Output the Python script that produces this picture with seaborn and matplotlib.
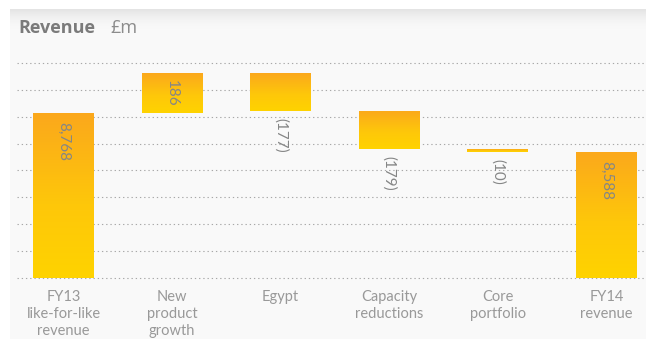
import numpy as np
import pandas as pd
import matplotlib
matplotlib.use("Agg")
import matplotlib.pyplot as plt
import seaborn as sns
from matplotlib.colors import LinearSegmentedColormap

# ---- data ----
categories = ["FY13\nlike-for-like\nrevenue", "New\nproduct\ngrowth", "Egypt",
              "Capacity\nreductions", "Core\nportfolio", "FY14\nrevenue"]
changes = [8768, 186, -177, -179, -10, 8588]
value_labels = ["8,768", "186", "(177)", "(179)", "(10)", "8,588"]
axis_floor = 8000
axis_top = 9000
grid_step = 125

# waterfall geometry (totals start at the axis floor)
bottoms, heights = [], []
running = 0
for i, c in enumerate(changes):
    if i == 0 or i == len(changes) - 1:
        bottoms.append(axis_floor)
        heights.append(c - axis_floor)
        running = c
    else:
        new = running + c
        bottoms.append(min(running, new))
        heights.append(abs(c))
        running = new

df = pd.DataFrame({"category": categories, "height": heights, "bottom": bottoms})

sns.set_theme(style="white")
plt.rcParams["font.family"] = ["Lato", "DejaVu Sans"]

W, H = 646, 339
fig = plt.figure(figsize=(W / 100, H / 100), dpi=100, facecolor="white")

# light grey panel with soft top shadow
bg = fig.add_axes([10 / W, 0, (W - 10) / W, (H - 9) / H])
rows = np.arange(330)
shade = np.clip(1 - rows / 20.0, 0, 1) ** 1.8
vals = (0xf9 - (0xf9 - 0xe4) * shade) / 255.0
img = np.repeat(vals[:, None], 10, axis=1)
img = np.dstack([img, img, img])
bg.imshow(img, aspect="auto", extent=[0, 1, 0, 1], origin="upper")
bg.axis("off")

# main axes
ylo, yhi = axis_floor - 20, axis_top + 20
ax = fig.add_axes([17 / W, (H - 282.0) / H, (W - 17) / W, 223.0 / H])
ax.patch.set_alpha(0)

sns.barplot(data=df, x="category", y="height", bottom=df["bottom"].values,
            width=0.56, color="#FFC20E", saturation=1, linewidth=0,
            errorbar=None, ax=ax, zorder=3)

cmap = LinearSegmentedColormap.from_list(
    "g", [(0.0, "#FFD300"), (0.45, "#FEC70A"), (1.0, "#FBA81C")])
grad = np.linspace(0, 1, 256).reshape(-1, 1)
for p in list(ax.patches):
    x, y = p.get_x(), p.get_y()
    w, h = p.get_width(), p.get_height()
    im = ax.imshow(grad, extent=[x, x + w, y, y + h], origin="lower",
                   aspect="auto", cmap=cmap, zorder=4)
    im.set_clip_path(p)

# value labels
txt_kw = dict(rotation=270, color="#858686", fontsize=11, rotation_mode="anchor",
              fontweight="normal")
for i, (lab, b, h) in enumerate(zip(value_labels, bottoms, heights)):
    if i == 0 or i == len(changes) - 1:
        ax.annotate(lab, (i, b + h), xytext=(0, -6.5), textcoords="offset points",
                    va="center", ha="left", zorder=6, **txt_kw)
    elif changes[i] > 0:
        ax.annotate(lab, (i, b + h / 2), xytext=(0, 0), textcoords="offset points",
                    va="center", ha="center", zorder=6, **txt_kw)
    else:
        ax.annotate(lab, (i, b), xytext=(0, -5), textcoords="offset points",
                    va="center", ha="left", zorder=6, **txt_kw)

ax.set_xlim(-0.428, 5.364)
ax.set_ylim(ylo, yhi)
ax.set_yticks(np.arange(axis_floor, axis_top + 1, grid_step))
ax.set_yticklabels([])
ax.yaxis.grid(True, color="#a8a8a8", linestyle=(0, (1.2, 2.6)), linewidth=0.8, zorder=0)
ax.xaxis.grid(False)
ax.set_axisbelow(True)
for s in ax.spines.values():
    s.set_visible(False)
ax.set_xlabel("")
ax.set_ylabel("")
ax.tick_params(axis="x", length=0, pad=6, labelsize=10.5, labelcolor="#999999")
ax.tick_params(axis="y", length=0)
for t in ax.get_xticklabels():
    t.set_linespacing(1.28)
    t.set_verticalalignment("top")
    t.set_fontweight("normal")

# title
fig.text(18 / W, 1 - 28 / H, "Revenue", fontsize=13, fontweight="bold",
         color="#7b7b7b", va="center", ha="left", family=["Open Sans", "DejaVu Sans"])
fig.text(110 / W, 1 - 28 / H, "£m", fontsize=13, color="#8c8c8c",
         va="center", ha="left", family=["Open Sans", "DejaVu Sans"])

fig.savefig("out.png", dpi=100, facecolor="white")
